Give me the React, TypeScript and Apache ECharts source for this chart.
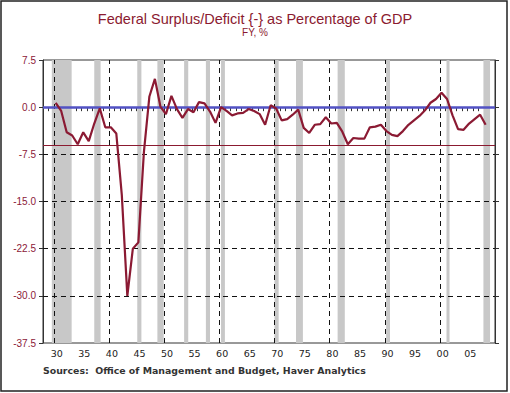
import React, { useEffect, useRef } from "react";
import * as echarts from "echarts";

// Fiscal years and federal surplus/deficit (-) as % of GDP
const YEARS = [
  1930, 1931, 1932, 1933, 1934, 1935, 1936, 1937, 1938, 1939,
  1940, 1941, 1942, 1943, 1944, 1945, 1946, 1947, 1948, 1949,
  1950, 1951, 1952, 1953, 1954, 1955, 1956, 1957, 1958, 1959,
  1960, 1961, 1962, 1963, 1964, 1965, 1966, 1967, 1968, 1969,
  1970, 1971, 1972, 1973, 1974, 1975, 1976, 1977, 1978, 1979,
  1980, 1981, 1982, 1983, 1984, 1985, 1986, 1987, 1988, 1989,
  1990, 1991, 1992, 1993, 1994, 1995, 1996, 1997, 1998, 1999,
  2000, 2001, 2002, 2003, 2004, 2005, 2006, 2007, 2008,
];
const DEFICIT = [
  0.7, -0.6, -4.0, -4.5, -5.9, -4.0, -5.4, -2.6, -0.2, -3.2,
  -3.2, -4.2, -14.0, -30.0, -22.5, -21.5, -7.2, 1.7, 4.5, 0.1,
  -1.1, 1.8, -0.3, -1.7, -0.3, -0.8, 0.8, 0.6, -0.7, -2.5,
  0.0, -0.6, -1.3, -1.0, -0.9, -0.3, -0.6, -1.1, -2.8, 0.3,
  -0.2, -2.1, -1.9, -1.2, -0.4, -3.3, -4.1, -2.8, -2.7, -1.6,
  -2.6, -2.5, -3.9, -5.9, -4.9, -5.0, -5.0, -3.2, -3.1, -2.8,
  -3.8, -4.4, -4.6, -3.8, -2.8, -2.1, -1.4, -0.5, 0.7, 1.3,
  2.3, 1.3, -1.3, -3.5, -3.6, -2.6, -1.9, -1.2, -2.8,
];
// Recession periods (start, end) in fractional years
const RECESSIONS: [number, number][] = [
  [1929.6, 1933.2], [1937.3, 1938.45], [1945.1, 1945.85], [1948.75, 1949.9],
  [1953.6, 1954.35], [1957.55, 1958.3], [1960.3, 1961.0], [1970.0, 1970.75],
  [1973.9, 1975.15], [1981.45, 1982.75], [1990.25, 1990.95], [2001.2, 2001.75],
  [2007.9, 2009.1],
];
// Category axis years (each a one-year band)
const AXIS_YEARS = [
  "1928", "1929", "1930", "1931", "1932", "1933", "1934", "1935", "1936", "1937",
  "1938", "1939", "1940", "1941", "1942", "1943", "1944", "1945", "1946", "1947",
  "1948", "1949", "1950", "1951", "1952", "1953", "1954", "1955", "1956", "1957",
  "1958", "1959", "1960", "1961", "1962", "1963", "1964", "1965", "1966", "1967",
  "1968", "1969", "1970", "1971", "1972", "1973", "1974", "1975", "1976", "1977",
  "1978", "1979", "1980", "1981", "1982", "1983", "1984", "1985", "1986", "1987",
  "1988", "1989", "1990", "1991", "1992", "1993", "1994", "1995", "1996", "1997",
  "1998", "1999", "2000", "2001", "2002", "2003", "2004", "2005", "2006", "2007",
  "2008", "2009",
];
const DECADES = [1930, 1940, 1950, 1960, 1970, 1980, 1990, 2000];
const Y_GRID = [-7.5, -15.0, -22.5, -30.0];
const Y_MIN = -37.5;
const Y_MAX = 7.5;
const Y_STEP = 7.5;
const ZERO_LINE = 0;
const AVERAGE_LINE = -6.0;
const X_MIN = 1928;
const X_MAX = 2010;
const POINT_OFFSET = 0.3;

const FONT = "'Liberation Sans', Arial, sans-serif";
const WIDE_FONT = "'DejaVu Sans', Verdana, sans-serif";
const RED = "#8b1a30";

export default function App() {
  const ref = useRef<HTMLDivElement>(null);
  useEffect(() => {
    if (!ref.current) return;
    const chart = echarts.init(ref.current, undefined, { renderer: "svg" });
    chart.setOption({
      animation: false,
      backgroundColor: "#ffffff",
      title: {
        text: "Federal Surplus/Deficit {-} as Percentage of GDP",
        subtext: "FY, %",
        left: "center",
        top: 6,
        itemGap: 1,
        textStyle: { fontFamily: FONT, fontSize: 14.5, fontWeight: "normal", color: RED },
        subtextStyle: { fontFamily: FONT, fontSize: 10, color: RED },
      },
      grid: {
        left: 43,
        top: 60,
        width: 452,
        height: 283,
        show: true,
        borderColor: "#333",
        borderWidth: 1,
        backgroundColor: "transparent",
      },
      xAxis: [
        {
          type: "value",
          min: X_MIN,
          max: X_MAX,
          show: false,
        },
        {
          type: "category",
          data: AXIS_YEARS,
          boundaryGap: true,
          position: "bottom",
          axisLine: { show: true, lineStyle: { color: "#333", width: 1 } },
          axisTick: { show: true, interval: 0, length: 4, lineStyle: { color: "#333" } },
          axisLabel: {
            interval: (_i: number, v: string) => Number(v) % 5 === 0,
            formatter: (v: string) => v.slice(2),
            color: "#222",
            fontFamily: WIDE_FONT,
            fontSize: 9.5,
            margin: 5,
          },
          splitLine: { show: false },
        },
      ],
      yAxis: [
        {
          type: "value",
          min: Y_MIN,
          max: Y_MAX,
          interval: Y_STEP,
          axisLine: { show: true, lineStyle: { color: "#333" } },
          axisTick: { show: true, length: 4, lineStyle: { color: "#333" } },
          axisLabel: {
            formatter: (v: number) => v.toFixed(1),
            color: "#8b2038",
            fontFamily: FONT,
            fontSize: 10,
            margin: 7,
          },
          splitLine: { show: false },
        },
        {
          type: "value",
          position: "right",
          min: Y_MIN,
          max: Y_MAX,
          interval: Y_STEP,
          axisLine: { show: true, lineStyle: { color: "#333" } },
          axisTick: { show: true, length: 4, lineStyle: { color: "#333" } },
          axisLabel: { show: false },
          splitLine: { show: false },
        },
      ],
      series: [
        {
          type: "line",
          xAxisIndex: 0,
          yAxisIndex: 0,
          data: [],
          z: 1,
          markArea: {
            silent: true,
            itemStyle: { color: "#c8c8c8" },
            data: RECESSIONS.map(([a, b]) => [{ xAxis: a }, { xAxis: b }]),
          },
        },
        {
          type: "line",
          xAxisIndex: 0,
          yAxisIndex: 0,
          data: [],
          z: 3,
          markLine: {
            silent: true,
            symbol: "none",
            label: { show: false },
            lineStyle: { color: "#111", width: 1, type: [5, 4] },
            data: [
              ...DECADES.map((d) => ({ xAxis: d })),
              ...Y_GRID.map((v) => ({ yAxis: v })),
            ],
          },
        },
        {
          type: "line",
          xAxisIndex: 0,
          yAxisIndex: 0,
          data: [],
          z: 4,
          markLine: {
            silent: true,
            symbol: "none",
            label: { show: false },
            data: [
              { yAxis: ZERO_LINE, lineStyle: { color: "#5252c4", width: 2.5, type: "solid" } },
              { yAxis: AVERAGE_LINE, lineStyle: { color: "#8b1a30", width: 1, type: "solid" } },
            ],
          },
        },
        {
          type: "line",
          xAxisIndex: 0,
          yAxisIndex: 0,
          z: 5,
          showSymbol: false,
          symbol: "none",
          lineStyle: { color: "#8b1a33", width: 2.2 },
          data: YEARS.map((y, i) => [y + POINT_OFFSET, DEFICIT[i]]),
        },
      ],
      graphic: [
        {
          type: "text",
          left: 43,
          top: 366,
          style: {
            text: "Sources:  Office of Management and Budget, Haver Analytics",
            fontFamily: WIDE_FONT,
            fontSize: 9.4,
            fontWeight: "bold",
            fill: "#333",
          },
        },
        {
          type: "rect",
          shape: { x: 1, y: 1, width: 506, height: 390 },
          style: { fill: "none", stroke: "#222", lineWidth: 1.5 },
          silent: true,
        },
      ],
    });
    return () => chart.dispose();
  }, []);
  return (
    <div
      ref={ref}
      style={{ position: "fixed", left: 0, top: 0, width: 510, height: 393 }}
    />
  );
}
